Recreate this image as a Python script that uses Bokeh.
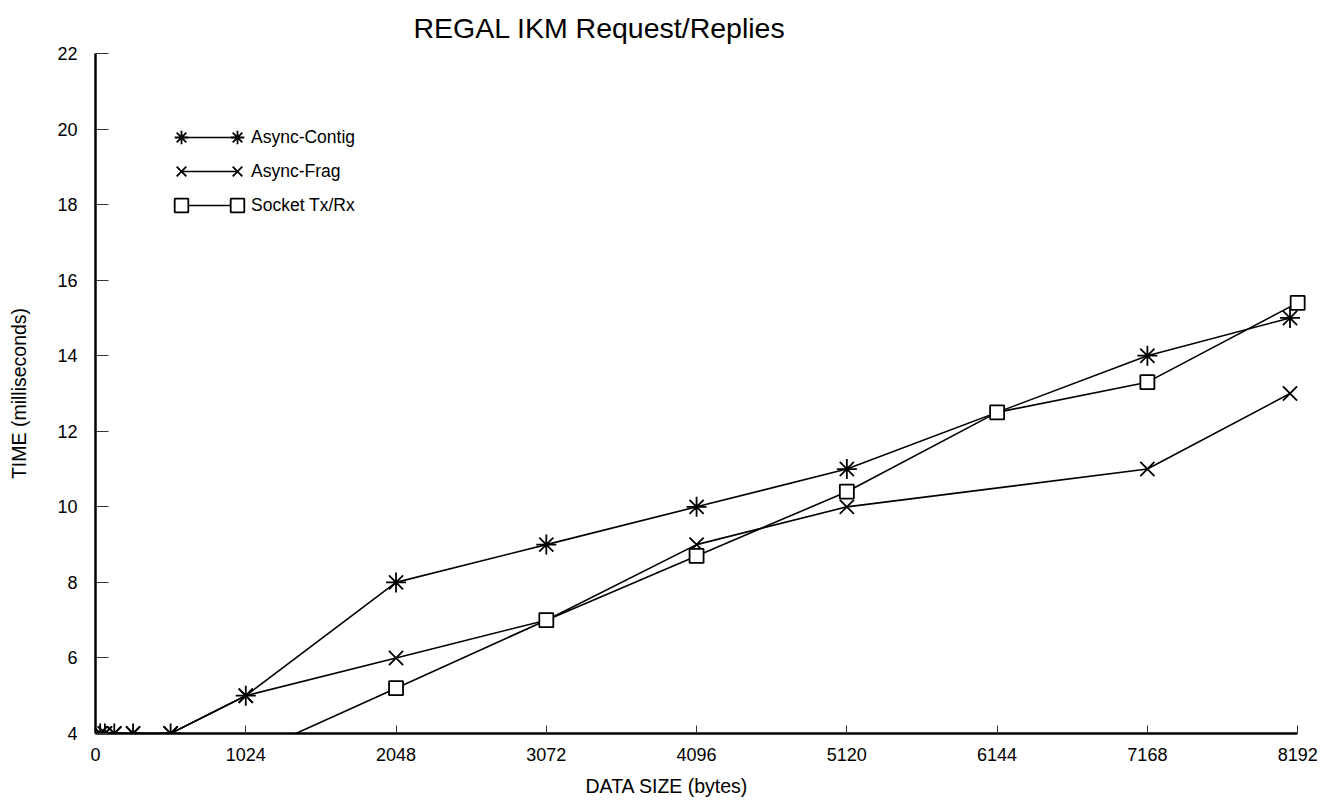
from bokeh.plotting import figure
from bokeh.models import Legend, LegendItem, FixedTicker, Range1d, Title
from bokeh.embed import file_html
from bokeh.resources import INLINE

# ---------------- data ----------------
title_text = "REGAL IKM Request/Replies"
x_label = "DATA SIZE (bytes)"
y_label = "TIME (milliseconds)"
x_ticks = [0, 1024, 2048, 3072, 4096, 5120, 6144, 7168, 8192]
y_ticks = [4, 6, 8, 10, 12, 14, 16, 18, 20, 22]

series_names = ["Async-Contig", "Async-Frag", "Socket Tx/Rx"]

contig_x = [32, 64, 128, 256, 512, 1024, 2048, 3072, 4096, 5120, 7168, 8140]
contig_y = [4, 4, 4, 4, 4, 5, 8, 9, 10, 11, 14, 15]

frag_x = [32, 64, 128, 256, 512, 1024, 2048, 3072, 4096, 5120, 7168, 8140]
frag_y = [4, 4, 4, 4, 4, 5, 6, 7, 9, 10, 11, 13]

socket_x = [1024, 2048, 3072, 4096, 5120, 6144, 7168, 8192]
socket_y = [3.4, 5.2, 7, 8.7, 10.4, 12.5, 13.3, 15.4]

FONT = "Liberation Sans"

p = figure(width=1337, height=808, output_backend="svg", toolbar_location=None,
           x_range=Range1d(0, 8300), y_range=Range1d(4, 22),
           min_border_left=95, min_border_right=24, min_border_top=53, min_border_bottom=75)
p.outline_line_color = None
p.xgrid.visible = False
p.ygrid.visible = False
p.background_fill_color = "white"
p.border_fill_color = "white"

# title
p.title.text = title_text
p.title.align = "left"
p.title.offset = 318
p.title.standoff = 19
p.title.text_font = FONT
p.title.text_font_size = "28.5px"
p.title.text_font_style = "normal"
p.title.text_color = "black"

# axes
for ax in (p.xaxis[0], p.yaxis[0]):
    ax.axis_line_width = 2.5
    ax.axis_line_color = "black"
    ax.major_tick_out = 0
    ax.major_tick_line_color = "#333333"
    ax.major_tick_line_width = 1
    ax.minor_tick_line_color = None
    ax.major_label_text_font = FONT
    ax.major_label_text_font_size = "18px"
    ax.major_label_text_color = "black"
    ax.axis_label_text_font = FONT
    ax.axis_label_text_font_size = "19.5px"
    ax.axis_label_text_font_style = "normal"
    ax.axis_label_text_color = "black"

p.xaxis.ticker = FixedTicker(ticks=x_ticks, minor_ticks=[])
p.yaxis.ticker = FixedTicker(ticks=y_ticks, minor_ticks=[])
p.xaxis.bounds = (0, 8192)
p.yaxis.bounds = (4, 22)
p.xaxis.major_tick_in = 8
p.yaxis.major_tick_in = 13
p.xaxis.major_label_standoff = 14
p.yaxis.major_label_standoff = 18
p.yaxis.axis_label = y_label
p.yaxis.axis_label_standoff = 24

# x-axis caption (placed as a below-title so it can sit left of centre like the original)
x_title = Title(text=x_label, align="left", offset=490, standoff=19,
                text_font=FONT, text_font_size="19.5px", text_font_style="normal",
                text_color="black")
p.add_layout(x_title, "below")

LW = 1.6
MLW = 1.8

c_line = p.line(contig_x, contig_y, line_color="black", line_width=LW)
c_mark = p.scatter(contig_x, contig_y, marker="asterisk", size=20,
                   line_color="black", line_width=MLW)

f_line = p.line(frag_x, frag_y, line_color="black", line_width=LW)
f_mark = p.scatter(frag_x, frag_y, marker="x", size=20,
                   line_color="black", line_width=MLW)

s_line = p.line(socket_x, socket_y, line_color="black", line_width=LW)
s_mark = p.scatter(socket_x, socket_y, marker="square", size=14,
                   line_color="black", fill_color="white", line_width=MLW)

# legend: lines with a marker at each end
common = dict(padding=0, spacing=0, glyph_height=34, label_height=34,
              border_line_color=None, background_fill_alpha=0,
              label_text_font=FONT, label_text_font_size="17.5px",
              label_text_color="black")

leg_lines = Legend(items=[LegendItem(label=series_names[0], renderers=[c_line]),
                          LegendItem(label=series_names[1], renderers=[f_line]),
                          LegendItem(label=series_names[2], renderers=[s_line])],
                   location=(86, 511), glyph_width=56, label_standoff=14, **common)
leg_left = Legend(items=[LegendItem(label=" ", renderers=[c_mark]),
                         LegendItem(label=" ", renderers=[f_mark]),
                         LegendItem(label=" ", renderers=[s_mark])],
                  location=(69, 511), glyph_width=34, label_standoff=0, **common)
leg_right = Legend(items=[LegendItem(label=" ", renderers=[c_mark]),
                          LegendItem(label=" ", renderers=[f_mark]),
                          LegendItem(label=" ", renderers=[s_mark])],
                   location=(125, 511), glyph_width=34, label_standoff=0, **common)
for lg in (leg_lines, leg_left, leg_right):
    p.add_layout(lg)

open("out.html", "w").write(file_html(p, INLINE))
